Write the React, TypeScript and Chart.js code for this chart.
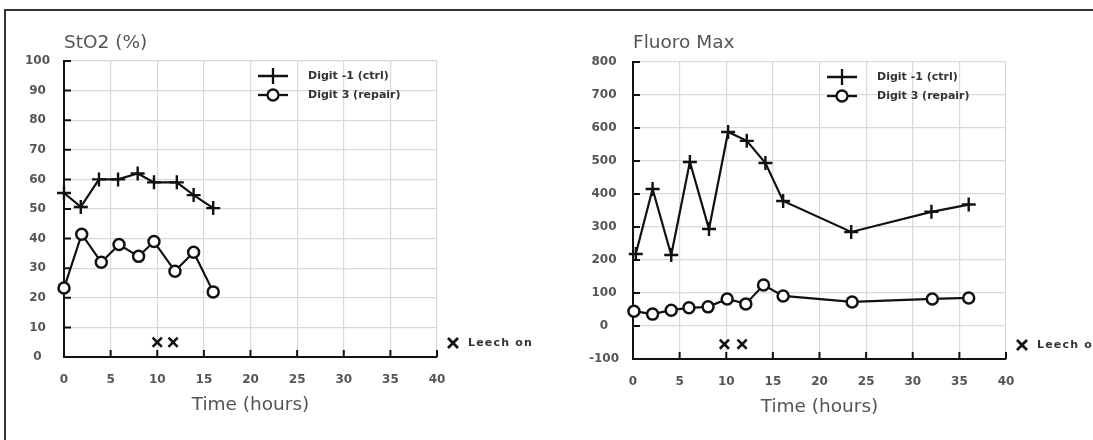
import React, { useEffect, useRef } from 'react';
import Chart from 'chart.js/auto';

// ---------- DATA ----------
const X_TICKS = [0, 5, 10, 15, 20, 25, 30, 35, 40];

// StO2 (%)
const STO2_Y_TICKS = [0, 10, 20, 30, 40, 50, 60, 70, 80, 90, 100];
const STO2_CTRL_TIME = [0, 1.8, 3.75, 5.8, 7.9, 9.65, 12.1, 13.9, 16];
const STO2_CTRL = [55.4, 50.7, 60, 60, 62, 59, 59, 54.7, 50.3];
const STO2_REPAIR_TIME = [0, 1.9, 4, 5.9, 8, 9.65, 11.9, 13.9, 16];
const STO2_REPAIR = [23.3, 41.5, 32, 38, 34, 39, 29, 35.4, 22];
const STO2_LEECH_TIME = [10, 11.7];
const STO2_LEECH = [5, 5];

// Fluoro Max
const FLUORO_Y_TICKS = [-100, 0, 100, 200, 300, 400, 500, 600, 700, 800];
const FLUORO_CTRL_TIME = [0.3, 2.1, 4.1, 6.1, 8.15, 10.2, 12.2, 14.2, 16.1, 23.4, 32, 36];
const FLUORO_CTRL = [218, 415, 215, 497, 294, 588, 561, 494, 379, 285, 346, 368];
const FLUORO_REPAIR_TIME = [0.1, 2.1, 4.1, 6, 8.05, 10.1, 12.1, 14, 16.1, 23.5, 32.1, 36];
const FLUORO_REPAIR = [45, 36, 48, 55, 58, 82, 67, 124, 91, 73, 82, 85];
const FLUORO_LEECH_TIME = [9.8, 11.7];
const FLUORO_LEECH = [-55, -55];

const SERIES_LABELS = ['Digit -1 (ctrl)', 'Digit 3 (repair)'];
const LEECH_LABEL = 'Leech on';
const X_TITLE = 'Time (hours)';

// ---------- STYLE ----------
const FONT = "'DejaVu Sans', Verdana, sans-serif";
const INK = '#111';
const TICK_SIZE = 12;
const TITLE_SIZE = 18.5;

const pts = (xs: number[], ys: number[]) => xs.map((x, i) => ({ x, y: ys[i] }));

const decorPlugin = {
  id: 'decor',
  afterDraw(chart: any) {
    const { ctx, chartArea: ca, scales } = chart;
    const xs = scales.x;
    const ys = scales.y;
    ctx.save();
    // inward tick marks
    ctx.strokeStyle = INK;
    ctx.lineWidth = 2;
    ctx.beginPath();
    xs.ticks.forEach((t: any) => {
      const px = xs.getPixelForValue(t.value);
      ctx.moveTo(px, ca.bottom);
      ctx.lineTo(px, ca.bottom - 7);
    });
    ys.ticks.forEach((t: any) => {
      const py = ys.getPixelForValue(t.value);
      ctx.moveTo(ca.left, py);
      ctx.lineTo(ca.left + 7, py);
    });
    ctx.stroke();

    // legend
    const cx = ca.left + 209;
    const rows = [ca.top + 15, ca.top + 34];
    ctx.lineWidth = 2.3;
    ctx.strokeStyle = INK;
    // cross symbol
    ctx.beginPath();
    ctx.moveTo(cx - 15, rows[0]);
    ctx.lineTo(cx + 15, rows[0]);
    ctx.moveTo(cx, rows[0] - 8);
    ctx.lineTo(cx, rows[0] + 8);
    ctx.stroke();
    // circle symbol
    ctx.beginPath();
    ctx.moveTo(cx - 15, rows[1]);
    ctx.lineTo(cx + 15, rows[1]);
    ctx.stroke();
    ctx.beginPath();
    ctx.arc(cx, rows[1], 5.5, 0, Math.PI * 2);
    ctx.fillStyle = '#fff';
    ctx.fill();
    ctx.stroke();

    ctx.fillStyle = '#333';
    ctx.font = `bold 11px ${FONT}`;
    ctx.textAlign = 'left';
    ctx.textBaseline = 'middle';
    SERIES_LABELS.forEach((l, i) => ctx.fillText(l, ca.left + 244, rows[i]));

    // Leech on marker
    const lx = ca.right + 16;
    const ly = ca.bottom - 14;
    ctx.lineWidth = 2.8;
    ctx.beginPath();
    ctx.moveTo(lx - 5, ly - 5);
    ctx.lineTo(lx + 5, ly + 5);
    ctx.moveTo(lx + 5, ly - 5);
    ctx.lineTo(lx - 5, ly + 5);
    ctx.stroke();
    ctx.font = `bold 11px ${FONT}`;
    try { (ctx as any).letterSpacing = '1.2px'; } catch (e) {}
    ctx.fillText(LEECH_LABEL, ca.right + 31, ly);
    ctx.restore();
  },
};

interface PanelCfg {
  title: string;
  yTicks: number[];
  ctrlT: number[];
  ctrl: number[];
  repT: number[];
  rep: number[];
  leechT: number[];
  leech: number[];
  yWidth: number;
  padRight: number;
  top: number;
  bottom: number;
  xTitleY: number;
  xLabelY: number;
}

function buildConfig(c: PanelCfg): any {
  const titleLH = TITLE_SIZE * 1.2;
  const padTop = 43 - titleLH / 2;
  const xHeight = 440 - c.bottom;
  return {
    type: 'scatter',
    data: {
      datasets: [
        {
          label: SERIES_LABELS[0],
          data: pts(c.ctrlT, c.ctrl),
          showLine: true,
          borderColor: INK,
          borderWidth: 2.2,
          pointStyle: 'cross',
          pointRadius: 7,
          pointBorderWidth: 2.4,
          pointBorderColor: INK,
          clip: false,
        },
        {
          label: SERIES_LABELS[1],
          data: pts(c.repT, c.rep),
          showLine: true,
          borderColor: INK,
          borderWidth: 2.2,
          pointStyle: 'circle',
          pointRadius: 5.5,
          pointBorderWidth: 2.5,
          pointBorderColor: INK,
          pointBackgroundColor: '#fff',
          clip: false,
        },
        {
          label: LEECH_LABEL,
          data: pts(c.leechT, c.leech),
          showLine: false,
          pointStyle: 'crossRot',
          pointRadius: 6.5,
          pointBorderWidth: 2.6,
          pointBorderColor: INK,
          borderColor: INK,
          clip: false,
        },
      ],
    },
    options: {
      animation: false,
      responsive: false,
      devicePixelRatio: 1,
      layout: { padding: { left: 0, right: c.padRight, top: padTop, bottom: 0 } },
      plugins: {
        legend: { display: false },
        tooltip: { enabled: false },
        title: {
          display: true,
          text: c.title,
          align: 'start',
          fullSize: false,
          color: '#555',
          font: { family: FONT, size: TITLE_SIZE, weight: 'normal' },
          padding: { top: 0, bottom: c.top - padTop - titleLH },
        },
      },
      scales: {
        x: {
          type: 'linear',
          min: X_TICKS[0],
          max: X_TICKS[X_TICKS.length - 1],
          afterBuildTicks: (s: any) => { s.ticks = X_TICKS.map((v) => ({ value: v })); },
          afterFit: (s: any) => { s.height = xHeight; },
          grid: { color: '#d9d9d9', lineWidth: 1.2, drawTicks: false },
          border: { display: true, color: INK, width: 2 },
          ticks: {
            color: '#555',
            font: { family: FONT, size: TICK_SIZE, weight: 'bold' },
            padding: c.xLabelY - c.bottom - (TICK_SIZE * 1.2) / 2,
            maxRotation: 0,
            autoSkip: false,
            callback: (v: any) => String(v),
          },
          title: {
            display: true,
            text: X_TITLE,
            color: '#555',
            font: { family: FONT, size: TITLE_SIZE, weight: 'normal' },
            padding: { top: 0, bottom: 440 - (TITLE_SIZE * 1.2) / 2 - c.xTitleY },
          },
        },
        y: {
          type: 'linear',
          min: c.yTicks[0],
          max: c.yTicks[c.yTicks.length - 1],
          afterBuildTicks: (s: any) => { s.ticks = c.yTicks.map((v) => ({ value: v })); },
          afterFit: (s: any) => { s.width = c.yWidth; },
          grid: { color: '#d9d9d9', lineWidth: 1.2, drawTicks: false },
          border: { display: true, color: INK, width: 2 },
          ticks: {
            color: '#555',
            font: { family: FONT, size: TICK_SIZE, weight: 'bold' },
            padding: 14,
            crossAlign: 'center',
            autoSkip: false,
            callback: (v: any) => String(v),
          },
        },
      },
    },
    plugins: [decorPlugin],
  };
}

function Panel({ cfg, left, width }: { cfg: PanelCfg; left: number; width: number }) {
  const ref = useRef<HTMLCanvasElement>(null);
  useEffect(() => {
    const chart = new Chart(ref.current as HTMLCanvasElement, buildConfig(cfg));
    return () => chart.destroy();
  }, []);
  return (
    <canvas
      ref={ref}
      width={width}
      height={440}
      style={{ position: 'absolute', left, top: 0, width, height: 440 }}
    />
  );
}

const LEFT_CFG: PanelCfg = {
  title: 'StO2 (%)',
  yTicks: STO2_Y_TICKS,
  ctrlT: STO2_CTRL_TIME,
  ctrl: STO2_CTRL,
  repT: STO2_REPAIR_TIME,
  rep: STO2_REPAIR,
  leechT: STO2_LEECH_TIME,
  leech: STO2_LEECH,
  yWidth: 64,
  padRight: 560 - 437,
  top: 61,
  bottom: 357,
  xTitleY: 405,
  xLabelY: 380,
};

const RIGHT_CFG: PanelCfg = {
  title: 'Fluoro Max',
  yTicks: FLUORO_Y_TICKS,
  ctrlT: FLUORO_CTRL_TIME,
  ctrl: FLUORO_CTRL,
  repT: FLUORO_REPAIR_TIME,
  rep: FLUORO_REPAIR,
  leechT: FLUORO_LEECH_TIME,
  leech: FLUORO_LEECH,
  yWidth: 73,
  padRight: 533 - 446,
  top: 62,
  bottom: 359,
  xTitleY: 407,
  xLabelY: 382,
};

export default function App() {
  return (
    <div
      style={{
        position: 'absolute',
        left: 0,
        top: 0,
        width: 1093,
        height: 440,
        overflow: 'hidden',
        background: '#fff',
      }}
    >
      <div
        style={{
          position: 'absolute',
          left: 4,
          top: 9,
          width: 1200,
          height: 500,
          borderLeft: '2px solid #333',
          borderTop: '2px solid #333',
        }}
      />
      <Panel cfg={LEFT_CFG} left={0} width={560} />
      <Panel cfg={RIGHT_CFG} left={560} width={533} />
    </div>
  );
}
